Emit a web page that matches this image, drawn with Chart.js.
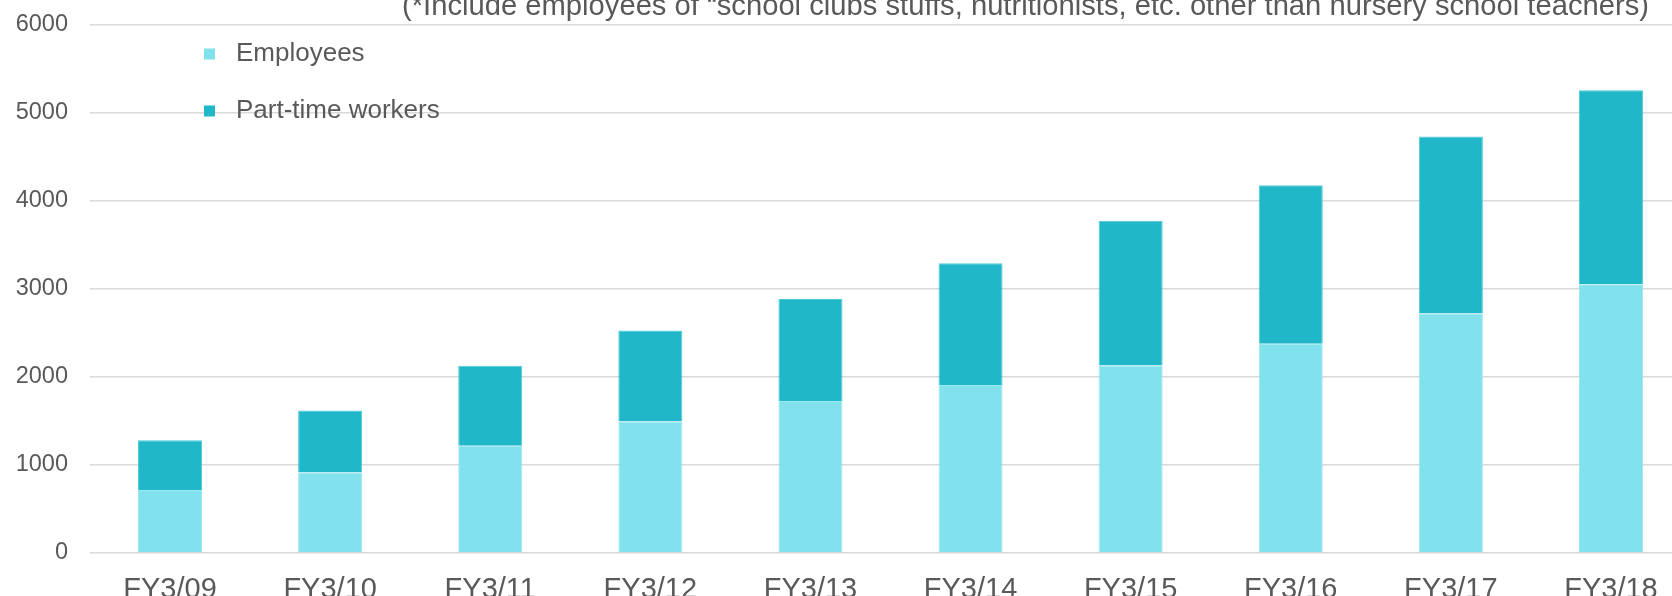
<!DOCTYPE html>
<html>
<head>
<meta charset="utf-8">
<script src="https://cdn.jsdelivr.net/npm/chart.js@4/dist/chart.umd.min.js"></script>
<style>
  html, body { margin: 0; padding: 0; background: #fff; overflow: hidden; }
  #wrap { width: 1672px; height: 596px; overflow: hidden; }
</style>
</head>
<body>
<div id="wrap"><canvas id="staff" width="1700" height="596"></canvas></div>
<script>
var years = ['FY3/09', 'FY3/10', 'FY3/11', 'FY3/12', 'FY3/13', 'FY3/14', 'FY3/15', 'FY3/16', 'FY3/17', 'FY3/18'];
var employees = [715, 915, 1220, 1495, 1727, 1908, 2130, 2378, 2723, 3055];
var partTime = [565, 705, 908, 1033, 1158, 1384, 1645, 1802, 2009, 2203];
var seriesNames = ['Employees', 'Part-time workers'];
var yTicks = [0, 1000, 2000, 3000, 4000, 5000, 6000];
var note = '(*Include employees of \u201Cschool clubs stuffs, nutritionists, etc. other than nursery school teachers)';

var gris = '#595959';
var fuente = '"Liberation Sans", Arial, sans-serif';

// nota de arriba y leyenda vertical dentro del area del grafico
var extras = {
    id: 'extras',
    afterDraw: function(chart) {
        var c = chart.ctx;
        c.save();
        c.fillStyle = gris;
        c.font = '29.2px ' + fuente;
        c.textBaseline = 'alphabetic';
        c.fillText(note, 402, 15);

        c.font = '26px ' + fuente;
        c.textBaseline = 'middle';
        chart.data.datasets.forEach(function(ds, i) {
            var y = 54 + i * 57;
            c.fillStyle = ds.backgroundColor;
            c.fillRect(204, y - 5.5, 11, 11);
            c.fillStyle = gris;
            c.fillText(ds.label, 236, y);
        });
        c.restore();
    }
};

var ctx = document.getElementById('staff').getContext('2d');
var grafica = new Chart(ctx, {
    type: 'bar',
    data: {
        labels: years,
        datasets: [{
            label: seriesNames[0],
            data: employees,
            backgroundColor: '#81E1EC',
            borderColor: '#9AE8F0',
            borderWidth: 1,
            barPercentage: 0.4,
            categoryPercentage: 1
        }, {
            label: seriesNames[1],
            data: partTime,
            backgroundColor: '#20B7C9',
            borderColor: '#4CCAD8',
            borderWidth: 1,
            barPercentage: 0.4,
            categoryPercentage: 1
        }]
    },
    options: {
        responsive: false,
        animation: false,
        layout: { padding: { top: 25, right: 9, left: 0, bottom: 0 } },
        plugins: {
            legend: { display: false },
            tooltip: { enabled: false }
        },
        scales: {
            x: {
                stacked: true,
                grid: { display: false },
                border: { display: false },
                ticks: {
                    color: gris,
                    font: { family: fuente, size: 29 },
                    padding: 12,
                    maxRotation: 0,
                    autoSkip: false
                },
                afterFit: function(scale) { scale.height = 43; }
            },
            y: {
                stacked: true,
                min: 0,
                max: 6000,
                afterBuildTicks: function(scale) {
                    scale.ticks = yTicks.map(function(v) { return { value: v }; });
                },
                // marcas invisibles para separar las etiquetas sin inflar el margen de arriba
                grid: { color: '#D9D9D9', lineWidth: 1.5, drawTicks: true, tickLength: 22, tickColor: 'rgba(0,0,0,0)' },
                border: { display: false },
                ticks: {
                    color: gris,
                    font: { family: fuente, size: 23.5 },
                    padding: 0,
                    callback: function(v) { return String(v); }
                },
                afterFit: function(scale) { scale.width = 90; }
            }
        }
    },
    plugins: [extras]
});
</script>
</body>
</html>
